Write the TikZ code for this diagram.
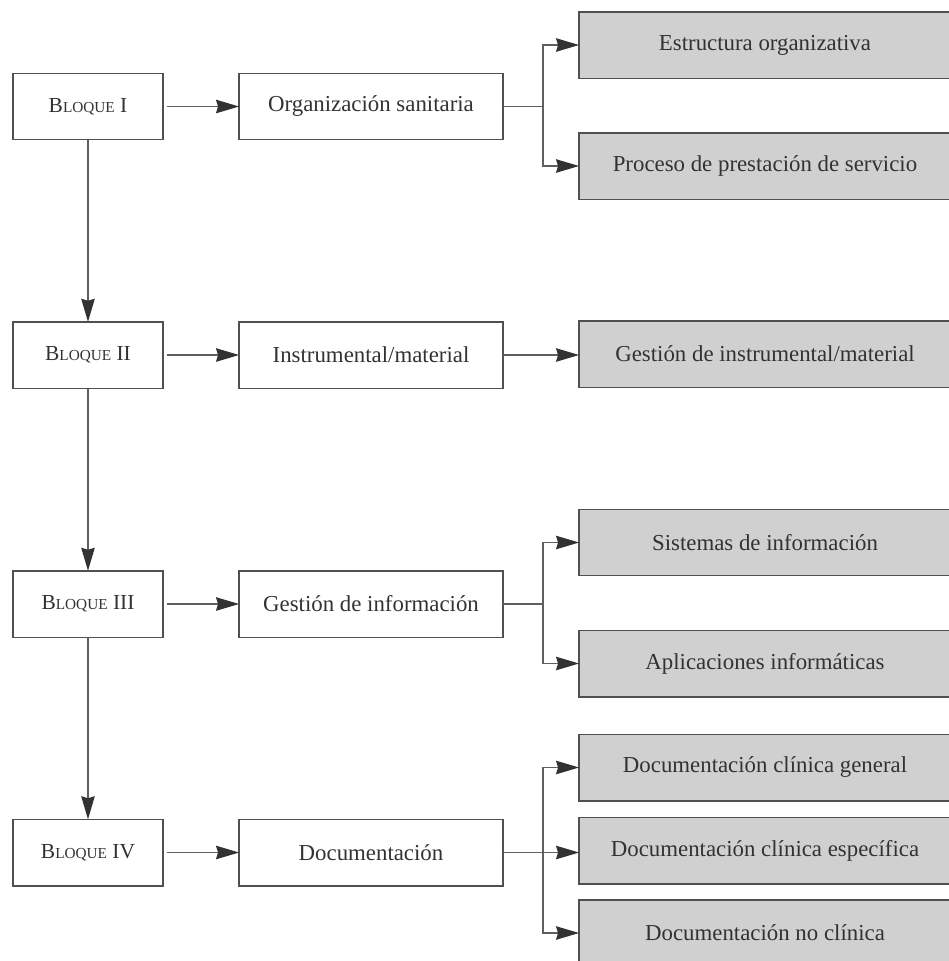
\documentclass[tikz,border=0pt]{standalone}
\usepackage{fontspec}
\setmainfont{Liberation Serif}
\usetikzlibrary{arrows.meta}

\definecolor{boxline}{RGB}{80,80,80}
\definecolor{connline}{RGB}{95,95,95}
\definecolor{tipcol}{RGB}{50,50,50}
\definecolor{boxfill}{RGB}{208,208,208}
\definecolor{inkcol}{RGB}{50,50,50}

% capitals set smaller, for the block titles
\newcommand{\lowcaps}[1]{{\fontsize{8.7}{11}\selectfont #1}}

\tikzset{
  every node/.style={font=\fontsize{13}{15}\selectfont, text=inkcol},
  base/.style={draw=boxline, line width=0.85pt, rectangle, outer sep=0pt,
               minimum height=1.33cm, inner sep=0pt},
  blockbox/.style={base, minimum width=3.0cm, font=\fontsize{12.2}{14}\selectfont},
  topicbox/.style={base, minimum width=5.28cm},
  itembox/.style={base, fill=boxfill, minimum width=7.44cm},
  link/.style={draw=connline, line width=0.7pt},
  arr/.style={link, -{Stealth[length=4.6mm, width=2.7mm, inset=0.4mm, fill=tipcol, color=tipcol]}}
}

\begin{document}
\begin{tikzpicture}[x=0.02cm, y=-0.02cm]
\useasboundingbox (0,0) rectangle (949,961);
\clip (0,0) rectangle (949,961);

% left column: the four blocks
\node[blockbox] (b1) at (88,106.5) {B\lowcaps{LOQUE} I};
\node[blockbox] (b2) at (88,355)   {B\lowcaps{LOQUE} II};
\node[blockbox] (b3) at (88,604)   {B\lowcaps{LOQUE} III};
\node[blockbox] (b4) at (88,852.5) {B\lowcaps{LOQUE} IV};

% middle column: topics
\node[topicbox] (t1) at (371,106.5) {Organización sanitaria};
\node[topicbox] (t2) at (371,355)   {Instrumental/material};
\node[topicbox] (t3) at (371,604)   {Gestión de información};
\node[topicbox] (t4) at (371,852.5) {Documentación};

% right column: shaded items (running past the right edge)
\node[itembox] (i1) at (765,45)   {Estructura organizativa};
\node[itembox] (i2) at (765,166)  {Proceso de prestación de servicio};
\node[itembox] (i3) at (765,354)  {Gestión de instrumental/material};
\node[itembox] (i4) at (765,542.5){Sistemas de información};
\node[itembox] (i5) at (765,663.5){Aplicaciones informáticas};
\node[itembox] (i6) at (765,767.5){Documentación clínica general};
\node[itembox] (i7) at (765,850.5){Documentación clínica específica};
\node[itembox] (i8) at (765,933)  {Documentación no clínica};

% vertical chain of blocks
\draw[arr] (b1) -- (b2);
\draw[arr] (b2) -- (b3);
\draw[arr] (b3) -- (b4);

% blocks to topics
\draw[arr, shorten <=2pt] (b1) -- (t1);
\draw[arr, shorten <=2pt] (b2) -- (t2);
\draw[arr, shorten <=2pt] (b3) -- (t3);
\draw[arr, shorten <=2pt] (b4) -- (t4);

% branching points
\path (t1.east) ++(40,0) coordinate (j1);
\path (t3.east) ++(40,0) coordinate (j3);
\path (t4.east) ++(40,0) coordinate (j4);

% topic 1
\draw[link] (t1.east) -- (j1);
\draw[arr] (j1) |- (i1.west);
\draw[arr] (j1) |- (i2.west);

% topic 2
\draw[arr] (t2.east) -- (i3.west |- t2.east);

% topic 3
\draw[link] (t3.east) -- (j3);
\draw[arr] (j3) |- (i4.west);
\draw[arr] (j3) |- (i5.west);

% topic 4
\draw[arr] (t4.east) -- (i7.west |- t4.east);
\draw[arr] (j4) |- (i6.west);
\draw[arr] (j4) |- (i8.west);
\end{tikzpicture}
\end{document}
